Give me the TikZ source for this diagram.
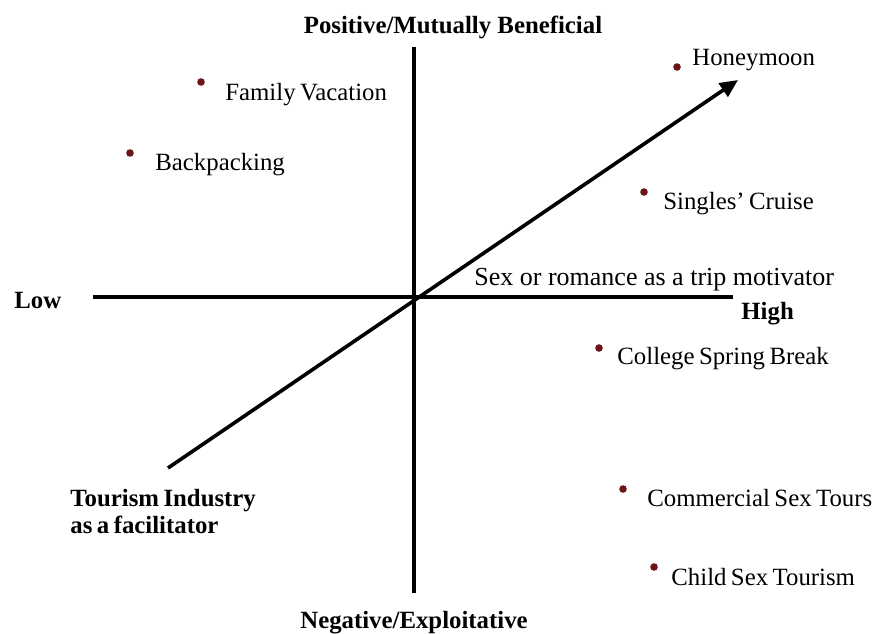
\documentclass[tikz,border=0pt]{standalone}
\usepackage{fontspec}
\setmainfont{Liberation Serif}
\usetikzlibrary{arrows.meta}
\definecolor{dotred}{HTML}{6B1518}
\newcommand{\tightwords}{\spaceskip=0.18em plus 0.05em minus 0.02em\relax}

\begin{document}
\begin{tikzpicture}[x=0.5pt, y=-0.5pt,
		axis/.style={line width=2.4pt},
		spot/.style={circle, fill=dotred, inner sep=0pt, minimum size=3.8pt},
		lbl/.style={anchor=base west, inner sep=0pt, font=\fontsize{12.4}{15}\selectfont\tightwords},
		head/.style={inner sep=0pt, font=\fontsize{12.4}{15}\selectfont\bfseries}]
	\useasboundingbox (0,0) rectangle (876,633);
	% axes
	\coordinate (left) at (93,297);
	\coordinate (right) at (733,297);
	\coordinate (top) at (414,47);
	\coordinate (bottom) at (414,593);
	\coordinate (tail) at (168,468);
	\coordinate (tip) at (738,80);
	\draw[axis] (left) -- (right);
	\draw[axis] (top) -- (bottom);
	\draw[line width=1.8pt, -{Triangle[length=9pt, width=8pt]}] (tail) -- (tip);
	% axis labels
	\node[head, anchor=base] (pos) at (453,33) {Positive/Mutually Beneficial};
	\node[head, anchor=base] (neg) at (414,628) {Negative/Exploitative};
	\node[head, anchor=base west] (low) at (14,308) {Low};
	\node[head, anchor=base west] (high) at (741,319) {High};
	\node[head, anchor=base west] (fac1) at (70,506) {\tightwords Tourism Industry};
	\node[head, anchor=base west] (fac2) at (70,533) {\tightwords as a facilitator};
	\node[lbl, font=\fontsize{13}{15}\selectfont] (motiv) at (474,285) {Sex or romance as a trip motivator};
	% trips
	\node[spot] (honey) at (677,67) {};
	\node[lbl] at (692,65) {Honeymoon};
	\node[spot] (family) at (201,82) {};
	\node[lbl] at (225,100) {Family Vacation};
	\node[spot] (back) at (130,153) {};
	\node[lbl] at (155,170) {Backpacking};
	\node[spot] (single) at (644,192) {};
	\node[lbl] at (663,209) {Singles' Cruise};
	\node[spot] (spring) at (599,348) {};
	\node[lbl] at (617,364) {College Spring Break};
	\node[spot] (comm) at (623,489) {};
	\node[lbl] at (647,506) {Commercial Sex Tours};
	\node[spot] (child) at (654,567) {};
	\node[lbl] at (671,585) {Child Sex Tourism};
\end{tikzpicture}
\end{document}
